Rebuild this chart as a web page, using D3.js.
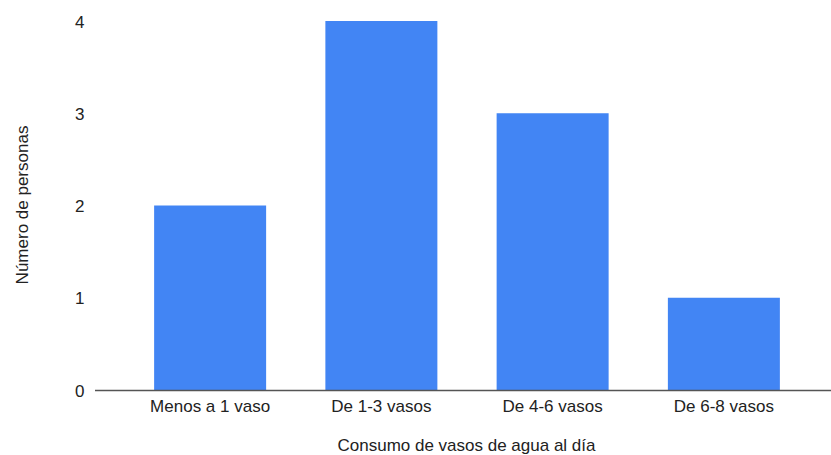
<!DOCTYPE html>
<html><head><meta charset="utf-8">
<script src="https://cdn.jsdelivr.net/npm/d3@7"></script>
<style>body{margin:0;background:#fff}text{font-family:"Liberation Sans",Arial,sans-serif}</style>
</head><body><svg id="c" width="831" height="455"></svg>
<script>
const categories = ["Menos a 1 vaso","De 1-3 vasos","De 4-6 vasos","De 6-8 vasos"];
const values = [2,4,3,1];
const yTicks = [0,1,2,3,4];

const svg = d3.select("#c");
const x = d3.scaleBand().domain(categories).range([124.5,809.5]).paddingInner(0.346).paddingOuter(0.173);
const y = d3.scaleLinear().domain([0,4]).range([390,21]);

svg.selectAll("rect.bar").data(values).join("rect")
  .attr("class","bar")
  .attr("x",(d,i)=>x(categories[i]))
  .attr("width",x.bandwidth())
  .attr("y",d=>y(d))
  .attr("height",d=>y(0)-y(d))
  .attr("fill","#4285F4");

svg.append("line").attr("x1",95).attr("x2",831).attr("y1",y(0)+0.5).attr("y2",y(0)+0.5)
  .attr("stroke","#555").attr("stroke-width",1.3);

svg.selectAll("text.yt").data(yTicks).join("text")
  .attr("class","yt").attr("x",84.5).attr("y",d=>y(d)+6.5)
  .attr("text-anchor","end").attr("font-size",17).attr("fill","#222").text(d=>d);

svg.selectAll("text.xt").data(categories).join("text")
  .attr("class","xt").attr("x",d=>x(d)+x.bandwidth()/2).attr("y",412)
  .attr("text-anchor","middle").attr("font-size",17).attr("fill","#222").text(d=>d);

svg.append("text").attr("x",466.5).attr("y",451).attr("text-anchor","middle")
  .attr("font-size",17).attr("fill","#222").text("Consumo de vasos de agua al día");
svg.append("text").attr("transform","translate(27.5,205) rotate(-90)").attr("text-anchor","middle")
  .attr("font-size",17).attr("fill","#222").text("Número de personas");
</script></body></html>
